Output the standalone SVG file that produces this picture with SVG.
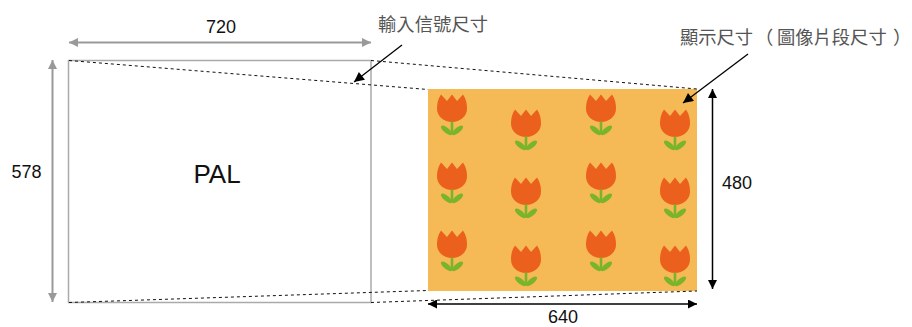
<svg xmlns="http://www.w3.org/2000/svg" xmlns:xlink="http://www.w3.org/1999/xlink" width="912" height="327" viewBox="0 0 912 327">
  <style>
    .num { font-family: "Liberation Sans", Arial, sans-serif; font-size: 18px; fill: #111; text-anchor: middle; }
    .big { font-family: "Liberation Sans", Arial, sans-serif; font-size: 26px; fill: #111; text-anchor: middle; }
    .cjk { font-family: "Noto Sans CJK TC", sans-serif; fill: #555; }
    .frame { fill: none; stroke: #aaaaaa; stroke-width: 1.5; }
    .dash { fill: none; stroke: #111; stroke-width: 1; stroke-dasharray: 3 3; }
    .dim-gray { fill: none; stroke: #999; stroke-width: 2; }
    .dim-black { fill: none; stroke: #000; stroke-width: 1.5; }
    .pointer { fill: none; stroke: #000; stroke-width: 1.3; }
    .petal { fill: #ec601d; }
    .stem { fill: #79b52c; }
  </style>
  <defs>
    <marker id="arrowGray" viewBox="0 0 10 10" refX="10" refY="5" markerWidth="9" markerHeight="9" markerUnits="userSpaceOnUse" orient="auto-start-reverse">
      <path d="M0,0 L10,5 L0,10 Z" fill="#999"/>
    </marker>
    <marker id="arrowBlack" viewBox="0 0 10 10" refX="10" refY="5" markerWidth="10" markerHeight="9" markerUnits="userSpaceOnUse" orient="auto-start-reverse">
      <path d="M0,0 L10,5 L0,10 Z" fill="#000"/>
    </marker>
    <marker id="arrowPointer" viewBox="0 0 10 10" refX="10" refY="5" markerWidth="12" markerHeight="10" markerUnits="userSpaceOnUse" orient="auto">
      <path d="M0,0 L10,5 L0,10 Z" fill="#000"/>
    </marker>
    <!-- one tulip: head top at (0,0), centred on x=0 -->
    <g id="tulip">
      <path class="petal" d="M-11,0 L-5,6.5 L0,0 L5,6.5 L11,0 C14,4 15,9 15,14 C15,22 8,27.5 0,27.5 C-8,27.5 -15,22 -15,14 C-15,9 -14,4 -11,0 Z"/>
      <rect class="stem" x="-1.3" y="27" width="2.6" height="13"/>
      <ellipse class="stem" cx="-5.6" cy="35.8" rx="6.8" ry="2.7" transform="rotate(40 -5.6 35.8)"/>
      <ellipse class="stem" cx="5.6" cy="35.8" rx="6.8" ry="2.7" transform="rotate(-40 5.6 35.8)"/>
    </g>
  </defs>

  <rect width="912" height="327" fill="#fff"/>

  <!-- input signal frame (PAL) -->
  <g id="pal-frame">
    <rect class="frame" x="68.5" y="60.5" width="302.5" height="242"/>
    <text class="big" x="217" y="183">PAL</text>
  </g>

  <!-- display area with tulip pattern -->
  <g id="display-area">
    <rect x="428" y="89" width="269" height="202" fill="#f5b955"/>
    <use xlink:href="#tulip" x="452" y="94.5"/>
    <use xlink:href="#tulip" x="452" y="162.5"/>
    <use xlink:href="#tulip" x="452" y="230.5"/>
    <use xlink:href="#tulip" x="526" y="109.5"/>
    <use xlink:href="#tulip" x="526" y="177.5"/>
    <use xlink:href="#tulip" x="526" y="245.5"/>
    <use xlink:href="#tulip" x="601" y="94.5"/>
    <use xlink:href="#tulip" x="601" y="162.5"/>
    <use xlink:href="#tulip" x="601" y="230.5"/>
    <use xlink:href="#tulip" x="675" y="109.5"/>
    <use xlink:href="#tulip" x="675" y="177.5"/>
    <use xlink:href="#tulip" x="675" y="245.5"/>
  </g>

  <!-- projection lines and dimension arrows -->
  <g id="connectors">
    <line class="dash" x1="69" y1="60.5" x2="428" y2="89.5"/>
    <line class="dash" x1="371" y1="60.5" x2="697" y2="89"/>
    <line class="dash" x1="69" y1="302.5" x2="428" y2="290.5"/>
    <line class="dash" x1="371" y1="302.5" x2="697" y2="291"/>

    <line class="dim-gray" x1="69" y1="42.5" x2="371" y2="42.5" marker-start="url(#arrowGray)" marker-end="url(#arrowGray)"/>
    <line class="dim-gray" x1="52.5" y1="60" x2="52.5" y2="302" marker-start="url(#arrowGray)" marker-end="url(#arrowGray)"/>
    <line class="dim-black" x1="712.5" y1="89" x2="712.5" y2="289" marker-start="url(#arrowBlack)" marker-end="url(#arrowBlack)"/>
    <line class="dim-black" x1="428" y1="304" x2="697" y2="304" marker-start="url(#arrowBlack)" marker-end="url(#arrowBlack)"/>

    <line class="pointer" x1="402" y1="45" x2="354" y2="82" marker-end="url(#arrowPointer)"/>
    <line class="pointer" x1="748" y1="54" x2="683" y2="103" marker-end="url(#arrowPointer)"/>
  </g>

  <!-- labels -->
  <g id="labels">
    <text class="num" x="221" y="33">720</text>
    <text class="num" x="26.5" y="178">578</text>
    <text class="num" x="737" y="189">480</text>
    <text class="num" x="563" y="323">640</text>
    <text class="cjk" x="378" y="31" font-size="18.3" textLength="110" lengthAdjust="spacing">輸入信號尺寸</text>
    <text class="cjk" y="44" font-size="18.3"><tspan x="680">顯示尺寸</tspan><tspan x="755">（</tspan><tspan x="777">圖像片段尺寸</tspan><tspan x="893">）</tspan></text>
  </g>
</svg>
